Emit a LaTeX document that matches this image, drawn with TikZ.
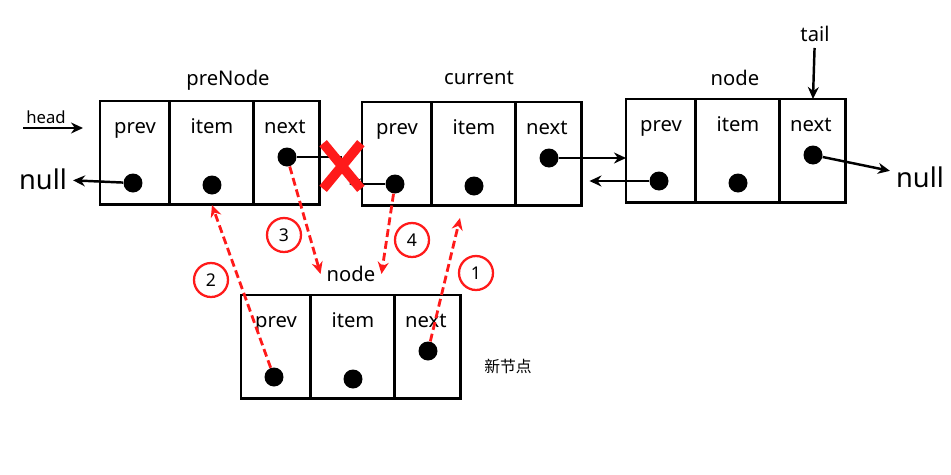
\documentclass[tikz,border=0pt]{standalone}
\usepackage{fontspec}
\setmainfont{Noto Sans}
\newfontfamily\cjk{Noto Sans CJK SC}
\usetikzlibrary{arrows.meta,positioning,shapes.misc}
\definecolor{Mark}{HTML}{FF1A1A}

\begin{document}
\begin{tikzpicture}[x=0.02cm,y=-0.02cm,
    cell/.style={draw,line width=1.7pt,minimum height=2.08cm,inner sep=0pt,outer sep=0pt,anchor=north west},
    lbl/.style={font=\fontsize{11.5}{13}\selectfont,anchor=base},
    ttl/.style={font=\fontsize{11.5}{13}\selectfont},
    big/.style={font=\fontsize{15.5}{17}\selectfont},
    dot/.style={circle,fill,inner sep=0pt,minimum size=0.38cm},
    a/.style={-{Stealth[length=2.4mm,width=2.2mm]},line width=1.4pt},
    ra/.style={-{Stealth[length=2.4mm,width=2.2mm]},draw=Mark,line width=1.6pt,dash pattern=on 4.5pt off 2.3pt},
    num/.style={circle,draw=Mark,line width=1.3pt,minimum size=0.68cm,inner sep=0pt,font=\fontsize{10}{11}\selectfont},
    xmark/.style={cross out,draw=Mark,line width=5.5pt,minimum width=0.56cm,minimum height=0.72cm,inner sep=0pt}]

  \useasboundingbox (0,0) rectangle (951,474);

  % the four list nodes: prev | item | next
  \foreach \n/\x/\y in {pre/100/101,cur/362/102,last/626/99,new/241/295}{
    \node[cell,minimum width=1.4cm] (\n-prev) at (\x,\y) {};
    \node[cell,minimum width=1.68cm] (\n-item) at (\n-prev.north east) {};
    \node[cell,minimum width=1.32cm] (\n-next) at (\n-item.north east) {};
    \node[lbl] (\n-tp) at ([yshift=-0.66cm]\n-prev.north) {prev};
    \node[lbl] (\n-ti) at ([yshift=-0.66cm]\n-item.north) {item};
    \node[lbl] (\n-tn) at ([yshift=-0.66cm,xshift=-0.04cm]\n-next.north) {next};
    \node[dot] (\n-pd) at (\x+33,\y+82) {};
    \node[dot] (\n-id) at (\x+112,\y+84) {};
    \node[dot] (\n-nd) at (\x+187,\y+56) {};
  }

  \node[ttl] (preT) at (228,80) {preNode};
  \node[ttl] (curT) at (479,78) {current};
  \node[ttl] (lastT) at (735,78) {node};
  \node[ttl] (newT) at (351,274) {node};
  \node[ttl] (tail) at (815,34) {tail};
  \node[font=\fontsize{9.5}{11}\selectfont] (head) at (46,117) {head};
  \node[big] (nullL) at (43,179) {null};
  \node[big] (nullR) at (920,177) {null};
  \node[font=\cjk\fontsize{9}{10}\selectfont] (newlbl) at (508,366) {新节点};

  % black links
  \coordinate (headS) at (23,128);
  \coordinate (headE) at (83,128);
  \draw[a] (headS) -- (headE);
  \draw[a] (tail) -- (last-next.north);
  \draw[a] (pre-pd) -- (nullL);
  \draw[a] (last-nd) -- (nullR);
  \coordinate (cut) at (342,166);
  \draw[line width=1.4pt] (pre-nd) -- (cut |- pre-nd);
  \draw[a,shorten >=4pt] (cur-pd) -- (cut |- cur-pd);
  \draw[a] (cur-nd) -- (cur-nd -| last-prev.west);
  \draw[a,shorten >=1.5mm] (last-pd) -- (last-pd -| cur-next.east);
  \node[xmark] (cutmark) at (cut) {};

  % red steps of the insertion
  \coordinate (t1) at (460,218);
  \draw[ra] (new-nd) -- (t1);
  \draw[ra] (new-pd) -- (pre-item.south);
  \draw[ra] (pre-nd) -- (newT.west);
  \draw[ra] (cur-pd) -- (newT.east);
  \node[num] (c1) at (476,273) {1};
  \node[num] (c2) at (211,280) {2};
  \node[num] (c3) at (284,235) {3};
  \node[num] (c4) at (412,240) {4};
\end{tikzpicture}
\end{document}
